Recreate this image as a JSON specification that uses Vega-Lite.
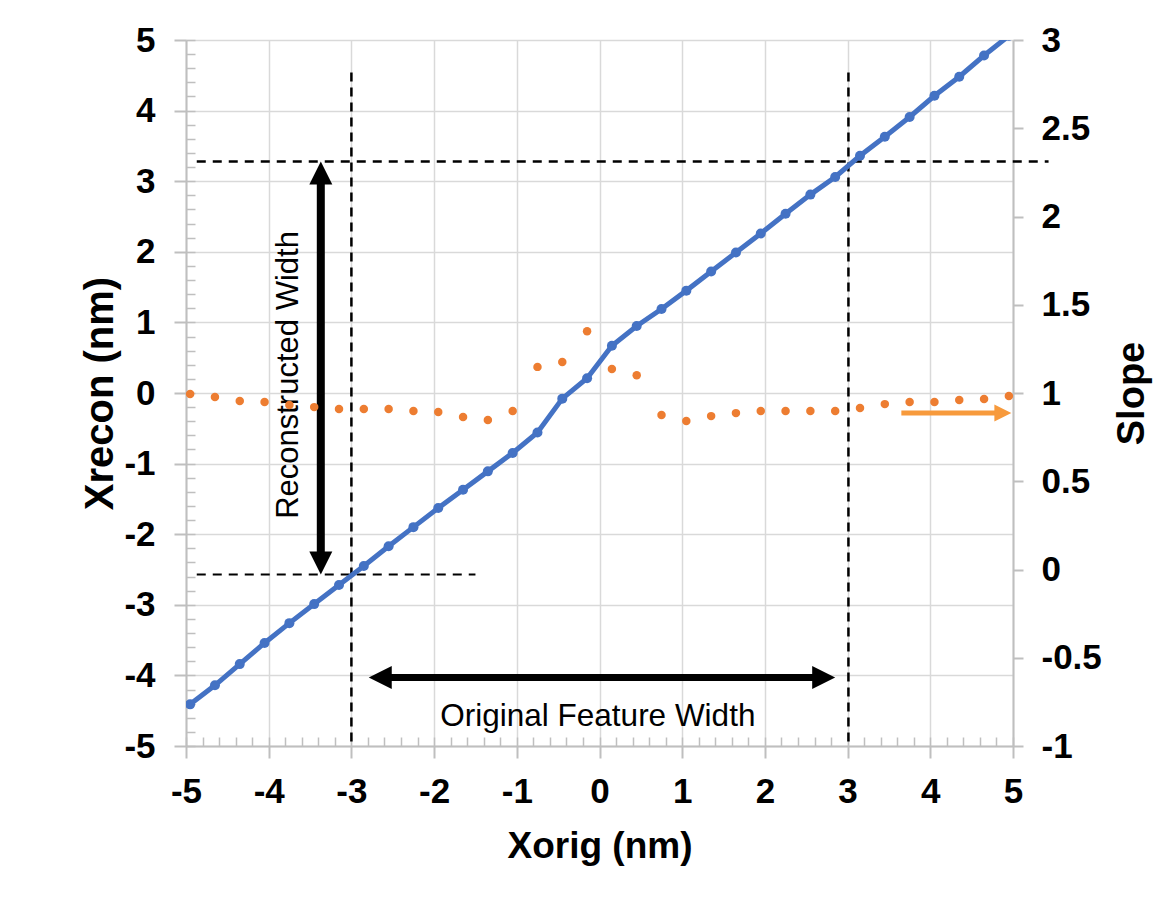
{
  "$schema": "https://vega.github.io/schema/vega-lite/v6.json",
  "width": 827,
  "height": 706,
  "autosize": {"type": "none"},
  "padding": {"left": 186, "top": 40, "right": 148, "bottom": 159},
  "background": "white",
  "config": {
    "font": "Liberation Sans",
    "view": {"stroke": null},
    "axis": {
      "labelFont": "Liberation Sans",
      "titleFont": "Liberation Sans",
      "labelColor": "black",
      "titleColor": "black",
      "labelFontWeight": "bold",
      "titleFontWeight": "bold",
      "labelFontSize": 35,
      "titleFontSize": 36,
      "labelOverlap": false,
      "labelFlush": false,
      "gridColor": "#d9d9d9",
      "gridWidth": 1.5,
      "domainColor": "#bfbfbf",
      "domainWidth": 2,
      "tickColor": "#bfbfbf",
      "tickWidth": 2
    }
  },
  "datasets": {
    "series": [
      {"x": -4.95, "recon": -4.41, "slope": 0.994},
      {"x": -4.65, "recon": -4.14, "slope": 0.977},
      {"x": -4.35, "recon": -3.84, "slope": 0.955},
      {"x": -4.05, "recon": -3.54, "slope": 0.949},
      {"x": -3.75, "recon": -3.26, "slope": 0.932},
      {"x": -3.45, "recon": -2.99, "slope": 0.92},
      {"x": -3.15, "recon": -2.72, "slope": 0.909},
      {"x": -2.85, "recon": -2.45, "slope": 0.909},
      {"x": -2.55, "recon": -2.17, "slope": 0.909},
      {"x": -2.25, "recon": -1.9, "slope": 0.898},
      {"x": -1.95, "recon": -1.63, "slope": 0.892},
      {"x": -1.65, "recon": -1.37, "slope": 0.864},
      {"x": -1.35, "recon": -1.11, "slope": 0.847},
      {"x": -1.05, "recon": -0.85, "slope": 0.898},
      {"x": -0.75, "recon": -0.56, "slope": 1.148},
      {"x": -0.45, "recon": -0.08, "slope": 1.176},
      {"x": -0.15, "recon": 0.21, "slope": 1.35},
      {"x": 0.15, "recon": 0.67, "slope": 1.136},
      {"x": 0.45, "recon": 0.95, "slope": 1.1},
      {"x": 0.75, "recon": 1.19, "slope": 0.875},
      {"x": 1.05, "recon": 1.45, "slope": 0.841},
      {"x": 1.35, "recon": 1.72, "slope": 0.869},
      {"x": 1.65, "recon": 1.99, "slope": 0.886},
      {"x": 1.95, "recon": 2.26, "slope": 0.898},
      {"x": 2.25, "recon": 2.54, "slope": 0.898},
      {"x": 2.55, "recon": 2.81, "slope": 0.898},
      {"x": 2.85, "recon": 3.06, "slope": 0.898},
      {"x": 3.15, "recon": 3.36, "slope": 0.915},
      {"x": 3.45, "recon": 3.63, "slope": 0.937},
      {"x": 3.75, "recon": 3.91, "slope": 0.949},
      {"x": 4.05, "recon": 4.21, "slope": 0.949},
      {"x": 4.35, "recon": 4.48, "slope": 0.96},
      {"x": 4.65, "recon": 4.78, "slope": 0.966},
      {"x": 4.95, "recon": 5.06, "slope": 0.983}
    ]
  },
  "layer": [
    {
      "resolve": {"axis": {"x": "independent", "y": "independent"}},
      "layer": [
        {
          "data": {"values": [{"xo": -3.0, "ya": 4.54, "yb": -5}, {"xo": 3.01, "ya": 4.54, "yb": -5}]},
          "mark": {"type": "rule", "color": "black", "strokeWidth": 2.5, "strokeDash": [9, 6]},
          "encoding": {
            "x": {"field": "xo", "type": "quantitative", "axis": null},
            "y": {"field": "ya", "type": "quantitative", "axis": null},
            "y2": {"field": "yb"}
          }
        },
        {
          "data": {"values": [{"xa": -4.87, "xb": 5.43, "yo": 3.28}]},
          "mark": {"type": "rule", "color": "black", "strokeWidth": 2.5, "strokeDash": [9, 7]},
          "encoding": {
            "x": {"field": "xa", "type": "quantitative", "axis": null},
            "x2": {"field": "xb"},
            "y": {"field": "yo", "type": "quantitative", "axis": null}
          }
        },
        {
          "data": {"values": [{"xa": -4.87, "xb": -1.5, "yo": -2.57}]},
          "mark": {"type": "rule", "color": "black", "strokeWidth": 2, "strokeDash": [9, 7]},
          "encoding": {
            "x": {"field": "xa", "type": "quantitative", "axis": null},
            "x2": {"field": "xb"},
            "y": {"field": "yo", "type": "quantitative", "axis": null}
          }
        },
        {
          "data": {"name": "series"},
          "mark": {"type": "line", "color": "#4472C4", "strokeWidth": 5, "clip": true},
          "encoding": {
            "x": {
              "field": "x", "type": "quantitative",
              "scale": {"domain": [-5, 5], "nice": false, "zero": false},
              "axis": {
                "orient": "bottom",
                "values": [-5, -4, -3, -2, -1, 0, 1, 2, 3, 4, 5],
                "labelExpr": "'' + datum.value",
                "grid": true,
                "tickSize": 12,
                "labelPadding": 16,
                "title": "Xorig (nm)",
                "titleFontSize": 37,
                "titlePadding": 19
              }
            },
            "y": {
              "field": "recon", "type": "quantitative",
              "scale": {"domain": [-5, 5], "nice": false, "zero": false},
              "axis": {
                "orient": "left",
                "values": [-5, -4, -3, -2, -1, 0, 1, 2, 3, 4, 5],
                "labelExpr": "'' + datum.value",
                "grid": true,
                "tickSize": 12,
                "labelPadding": 19,
                "title": "Xrecon (nm)",
                "titleFontSize": 40,
                "titlePadding": 3
              }
            }
          }
        },
        {
          "data": {"name": "series"},
          "mark": {"type": "point", "filled": true, "color": "#4472C4", "size": 100, "opacity": 1, "clip": true},
          "encoding": {
            "x": {
              "field": "x", "type": "quantitative",
              "axis": {
                "orient": "bottom",
                "values": [-5, -4.8, -4.6, -4.4, -4.2, -4, -3.8, -3.6, -3.4, -3.2, -3, -2.8, -2.6, -2.4, -2.2, -2, -1.8, -1.6, -1.4, -1.2, -1, -0.8, -0.6, -0.4, -0.2, 0, 0.2, 0.4, 0.6, 0.8, 1, 1.2, 1.4, 1.6, 1.8, 2, 2.2, 2.4, 2.6, 2.8, 3, 3.2, 3.4, 3.6, 3.8, 4, 4.2, 4.4, 4.6, 4.8, 5],
                "labels": false, "domain": false, "grid": false,
                "tickSize": -9, "tickWidth": 1.5, "title": null
              }
            },
            "y": {
              "field": "recon", "type": "quantitative",
              "axis": {
                "orient": "left",
                "values": [-5, -4.8, -4.6, -4.4, -4.2, -4, -3.8, -3.6, -3.4, -3.2, -3, -2.8, -2.6, -2.4, -2.2, -2, -1.8, -1.6, -1.4, -1.2, -1, -0.8, -0.6, -0.4, -0.2, 0, 0.2, 0.4, 0.6, 0.8, 1, 1.2, 1.4, 1.6, 1.8, 2, 2.2, 2.4, 2.6, 2.8, 3, 3.2, 3.4, 3.6, 3.8, 4, 4.2, 4.4, 4.6, 4.8, 5],
                "labels": false, "domain": false, "grid": false,
                "tickSize": -9, "tickWidth": 1.5, "title": null
              }
            }
          }
        },
        {
          "data": {"values": [{"xo": -3.37, "ya": 3.0, "yb": -2.29}]},
          "mark": {"type": "rule", "color": "black", "strokeWidth": 8},
          "encoding": {
            "x": {"field": "xo", "type": "quantitative", "axis": null},
            "y": {"field": "ya", "type": "quantitative", "axis": null},
            "y2": {"field": "yb"}
          }
        },
        {
          "data": {"values": [{"xa": -2.55, "xb": 2.61, "yo": -4.03}]},
          "mark": {"type": "rule", "color": "black", "strokeWidth": 7},
          "encoding": {
            "x": {"field": "xa", "type": "quantitative", "axis": null},
            "x2": {"field": "xb"},
            "y": {"field": "yo", "type": "quantitative", "axis": null}
          }
        },
        {
          "data": {"values": [{"xo": -3.37, "yo": 3.28}]},
          "mark": {"type": "point", "shape": "M0,0L-1,2L1,2Z", "size": 529, "filled": true, "color": "black", "opacity": 1, "strokeWidth": 0},
          "encoding": {
            "x": {"field": "xo", "type": "quantitative", "axis": null},
            "y": {"field": "yo", "type": "quantitative", "axis": null}
          }
        },
        {
          "data": {"values": [{"xo": -3.37, "yo": -2.57}]},
          "mark": {"type": "point", "shape": "M0,0L-1,-2L1,-2Z", "size": 529, "filled": true, "color": "black", "opacity": 1, "strokeWidth": 0},
          "encoding": {
            "x": {"field": "xo", "type": "quantitative", "axis": null},
            "y": {"field": "yo", "type": "quantitative", "axis": null}
          }
        },
        {
          "data": {"values": [{"xo": -2.79, "yo": -4.03}]},
          "mark": {"type": "point", "shape": "M0,0L2,-1L2,1Z", "size": 529, "filled": true, "color": "black", "opacity": 1, "strokeWidth": 0},
          "encoding": {
            "x": {"field": "xo", "type": "quantitative", "axis": null},
            "y": {"field": "yo", "type": "quantitative", "axis": null}
          }
        },
        {
          "data": {"values": [{"xo": 2.85, "yo": -4.03}]},
          "mark": {"type": "point", "shape": "M0,0L-2,-1L-2,1Z", "size": 529, "filled": true, "color": "black", "opacity": 1, "strokeWidth": 0},
          "encoding": {
            "x": {"field": "xo", "type": "quantitative", "axis": null},
            "y": {"field": "yo", "type": "quantitative", "axis": null}
          }
        },
        {
          "data": {"values": [{"xa": 3.65, "xb": 4.86, "yo": -0.283}]},
          "mark": {"type": "rule", "color": "#F79A3C", "strokeWidth": 5},
          "encoding": {
            "x": {"field": "xa", "type": "quantitative", "axis": null},
            "x2": {"field": "xb"},
            "y": {"field": "yo", "type": "quantitative", "axis": null}
          }
        },
        {
          "data": {"values": [{"xo": 4.98, "yo": -0.283}]},
          "mark": {"type": "point", "shape": "M0,0L-2,-1L-2,1Z", "size": 289, "filled": true, "color": "#F79A3C", "opacity": 1, "strokeWidth": 0},
          "encoding": {
            "x": {"field": "xo", "type": "quantitative", "axis": null},
            "y": {"field": "yo", "type": "quantitative", "axis": null}
          }
        },
        {
          "data": {"values": [{"xo": -3.65, "yo": 0.255, "label": "Reconstructed Width"}]},
          "mark": {"type": "text", "angle": 270, "align": "center", "baseline": "alphabetic", "font": "Liberation Sans", "fontSize": 31, "color": "black"},
          "encoding": {
            "x": {"field": "xo", "type": "quantitative", "axis": null},
            "y": {"field": "yo", "type": "quantitative", "axis": null},
            "text": {"field": "label"}
          }
        },
        {
          "data": {"values": [{"xo": -0.02, "yo": -4.71, "label": "Original Feature Width"}]},
          "mark": {"type": "text", "align": "center", "baseline": "alphabetic", "font": "Liberation Sans", "fontSize": 31.5, "color": "black"},
          "encoding": {
            "x": {"field": "xo", "type": "quantitative", "axis": null},
            "y": {"field": "yo", "type": "quantitative", "axis": null},
            "text": {"field": "label"}
          }
        }
      ]
    },
    {
      "data": {"name": "series"},
      "mark": {"type": "point", "filled": true, "color": "#ED7D31", "size": 72, "opacity": 1},
      "encoding": {
        "x": {"field": "x", "type": "quantitative", "axis": null},
        "y": {
          "field": "slope", "type": "quantitative",
          "scale": {"domain": [-1, 3], "nice": false, "zero": false},
          "axis": {
            "orient": "right",
            "values": [-1, -0.5, 0, 0.5, 1, 1.5, 2, 2.5, 3],
            "labelExpr": "'' + datum.value",
            "grid": false,
            "domain": true,
            "ticks": true,
            "tickSize": 10,
            "labelPadding": 18,
            "title": "Slope",
            "titleFontSize": 38,
            "titleAngle": -90,
            "titleBaseline": "top",
            "titlePadding": 12
          }
        }
      }
    }
  ],
  "resolve": {"scale": {"y": "independent"}}
}
